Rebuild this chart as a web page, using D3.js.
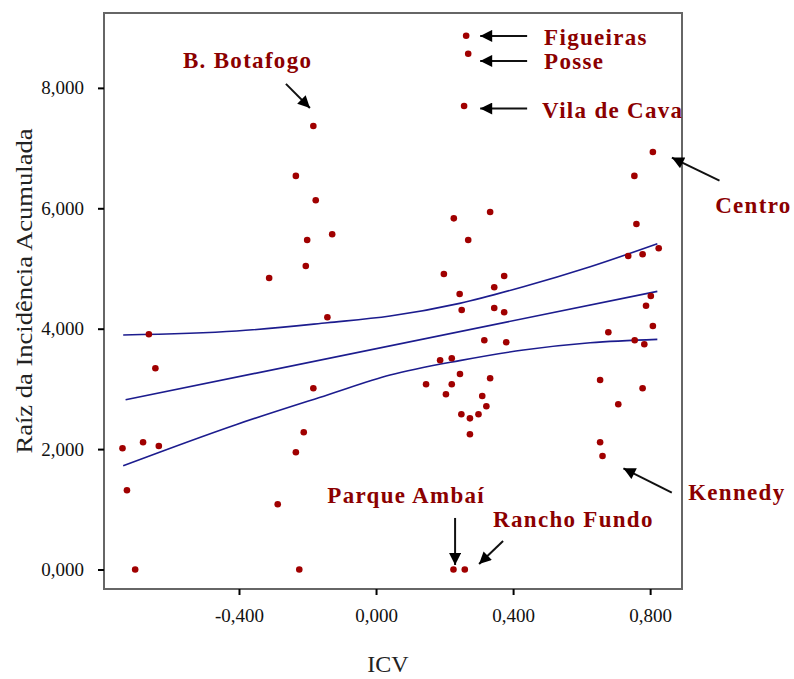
<!DOCTYPE html>
<html>
<head>
<meta charset="utf-8">
<script src="https://cdn.jsdelivr.net/npm/d3@7"></script>
<style>
  body { margin: 0; background: #fff; }
  .axis text { font-family: "Liberation Serif", "Times New Roman", serif; font-size: 19px; fill: #111; }
  .axis line { stroke: #000; stroke-width: 2px; }
  .axis path { display: none; }
  .lbl { font-family: "Liberation Serif", "Times New Roman", serif; font-weight: bold; font-size: 23px; fill: #8b0000; letter-spacing: 1.3px; }
  .title { font-family: "Liberation Serif", "Times New Roman", serif; font-size: 24px; fill: #222; }
</style>
</head>
<body>
<div class="chart"></div>
<script>
// ICV (x) and raiz da incidencia acumulada (y)
const icv = [-0.183,-0.234,-0.176,-0.128,-0.201,-0.205,-0.312,-0.142,
  0.263,0.269,0.257,0.808,0.754,0.227,0.333,0.269,0.760,0.825,0.736,0.778,
  0.198,0.374,0.244,0.345,0.802,0.788,0.250,0.345,0.374,0.808,0.678,0.316,
  0.380,0.755,0.783,0.187,0.221,0.146,0.245,0.221,0.204,0.333,0.310,0.322,
  0.249,0.274,0.299,0.274,0.654,0.707,0.778,0.654,0.661,0.226,0.259,
  -0.663,-0.644,-0.183,-0.211,-0.234,-0.740,-0.680,-0.634,-0.727,-0.287,-0.703,-0.224];
const raiz = [7.368,6.538,6.134,5.569,5.474,5.042,4.843,4.190,
  8.866,8.567,7.700,6.934,6.538,5.833,5.938,5.474,5.740,5.336,5.208,5.236,
  4.909,4.876,4.577,4.688,4.543,4.382,4.311,4.344,4.273,4.045,3.940,3.807,
  3.774,3.807,3.741,3.475,3.508,3.076,3.247,3.076,2.910,3.176,2.882,2.711,
  2.578,2.511,2.578,2.246,3.148,2.745,3.010,2.113,1.886,0.000,0.000,
  3.907,3.343,3.010,2.279,1.947,2.013,2.113,2.052,1.316,1.083,0.000,0.000];

// fitted line and confidence band
const fitX = [-0.731, 0.821];
const fitY = [2.820, 4.620];
const bandX = [-0.738,-0.407,-0.142,0.041,0.244,0.430,0.625,0.821];
const bandUpper = [3.895,3.961,4.099,4.210,4.421,4.697,5.029,5.411];
const bandLower = [1.724,2.410,2.900,3.230,3.470,3.646,3.767,3.823];

const xTicks = [-0.4, 0, 0.4, 0.8];
const yTicks = [0, 2, 4, 6, 8];

// annotations: label position and arrow (tail -> head), in data units
const labelNames = ["B. Botafogo","Figueiras","Posse","Vila de Cava","Centro","Kennedy","Parque Ambaí","Rancho Fundo"];
const labelAt = [[-0.5635,8.332],[0.4905,8.714],[0.4905,8.315],[0.4847,7.501],[0.9898,5.923],[0.911,1.155],[-0.1422,1.105],[0.3416,0.706]];
const arrowFrom = [[-0.263,8.066],[0.441,8.864],[0.441,8.448],[0.441,7.656],[1.0024,6.460],[0.8633,1.276],[0.2307,0.856],[0.3708,0.474]];
const arrowTo = [[-0.193,7.667],[0.304,8.864],[0.304,8.448],[0.304,7.656],[0.8634,6.842],[0.722,1.681],[0.2307,0.075],[0.3007,0.091]];

const W = 794, H = 679;
const plot = {left: 104, right: 682, top: 13, bottom: 589};

const loc = d3.formatLocale({decimal: ",", thousands: ".", grouping: [3], currency: ["", ""], minus: "-"});
const fmt = loc.format(".3f");

const svg = d3.select(".chart").append("svg")
    .attr("width", W).attr("height", H);

const x = d3.scaleLinear().domain([-0.794, 0.893]).range([plot.left, plot.right]);
const y = d3.scaleLinear().domain([-0.324, 9.244]).range([plot.bottom, plot.top]);

// frame
svg.append("rect")
    .attr("x", plot.left).attr("y", plot.top)
    .attr("width", plot.right - plot.left).attr("height", plot.bottom - plot.top)
    .attr("fill", "none").attr("stroke", "#666").attr("stroke-width", 2);

svg.append("g")
    .attr("class", "axis")
    .attr("transform", `translate(0,${plot.bottom})`)
    .call(d3.axisBottom(x).tickValues(xTicks).tickFormat(fmt).tickSize(6).tickSizeOuter(0).tickPadding(14));

svg.append("g")
    .attr("class", "axis")
    .attr("transform", `translate(${plot.left},0)`)
    .call(d3.axisLeft(y).tickValues(yTicks).tickFormat(fmt).tickSize(6).tickSizeOuter(0).tickPadding(14));

// axis titles
svg.append("text").attr("class", "title")
    .attr("x", 388).attr("y", 672).attr("text-anchor", "middle").text("ICV");
svg.append("text").attr("class", "title")
    .attr("transform", "translate(32,291) rotate(-90)")
    .attr("text-anchor", "middle")
    .attr("textLength", 325).attr("lengthAdjust", "spacingAndGlyphs")
    .text("Raíz da Incidência Acumulada");

// fit line and band
const blue = "#1c1c8e";
svg.append("path")
    .datum(fitX.map((d, i) => [d, fitY[i]]))
    .attr("fill", "none").attr("stroke", blue).attr("stroke-width", 1.6)
    .attr("d", d3.line().x(d => x(d[0])).y(d => y(d[1])));

[bandUpper, bandLower].forEach(arr => {
  svg.append("path")
      .datum(bandX.map((d, i) => [d, arr[i]]))
      .attr("fill", "none").attr("stroke", blue).attr("stroke-width", 1.6)
      .attr("d", d3.line().curve(d3.curveMonotoneX).x(d => x(d[0])).y(d => y(d[1])));
});

// points
svg.selectAll(".dot")
    .data(icv.map((d, i) => [d, raiz[i]]))
    .enter().append("circle")
    .attr("class", "dot")
    .attr("cx", d => x(d[0])).attr("cy", d => y(d[1]))
    .attr("r", 3.3)
    .attr("fill", "#a00000");

// arrow head
svg.append("defs").append("marker")
    .attr("id", "head")
    .attr("viewBox", "0 0 10 10")
    .attr("refX", 10).attr("refY", 5)
    .attr("markerWidth", 7).attr("markerHeight", 6)
    .attr("markerUnits", "strokeWidth")
    .attr("orient", "auto")
    .append("path").attr("d", "M0,0 L10,5 L0,10 Z").attr("fill", "#000");

svg.selectAll(".arrow")
    .data(arrowFrom.map((d, i) => [d, arrowTo[i]]))
    .enter().append("line")
    .attr("class", "arrow")
    .attr("x1", d => x(d[0][0])).attr("y1", d => y(d[0][1]))
    .attr("x2", d => x(d[1][0])).attr("y2", d => y(d[1][1]))
    .attr("stroke", "#111").attr("stroke-width", 2)
    .attr("marker-end", "url(#head)");

svg.selectAll(".lbl")
    .data(labelNames)
    .enter().append("text")
    .attr("class", "lbl")
    .attr("x", (d, i) => x(labelAt[i][0]))
    .attr("y", (d, i) => y(labelAt[i][1]))
    .text(d => d);
</script>
</body>
</html>
